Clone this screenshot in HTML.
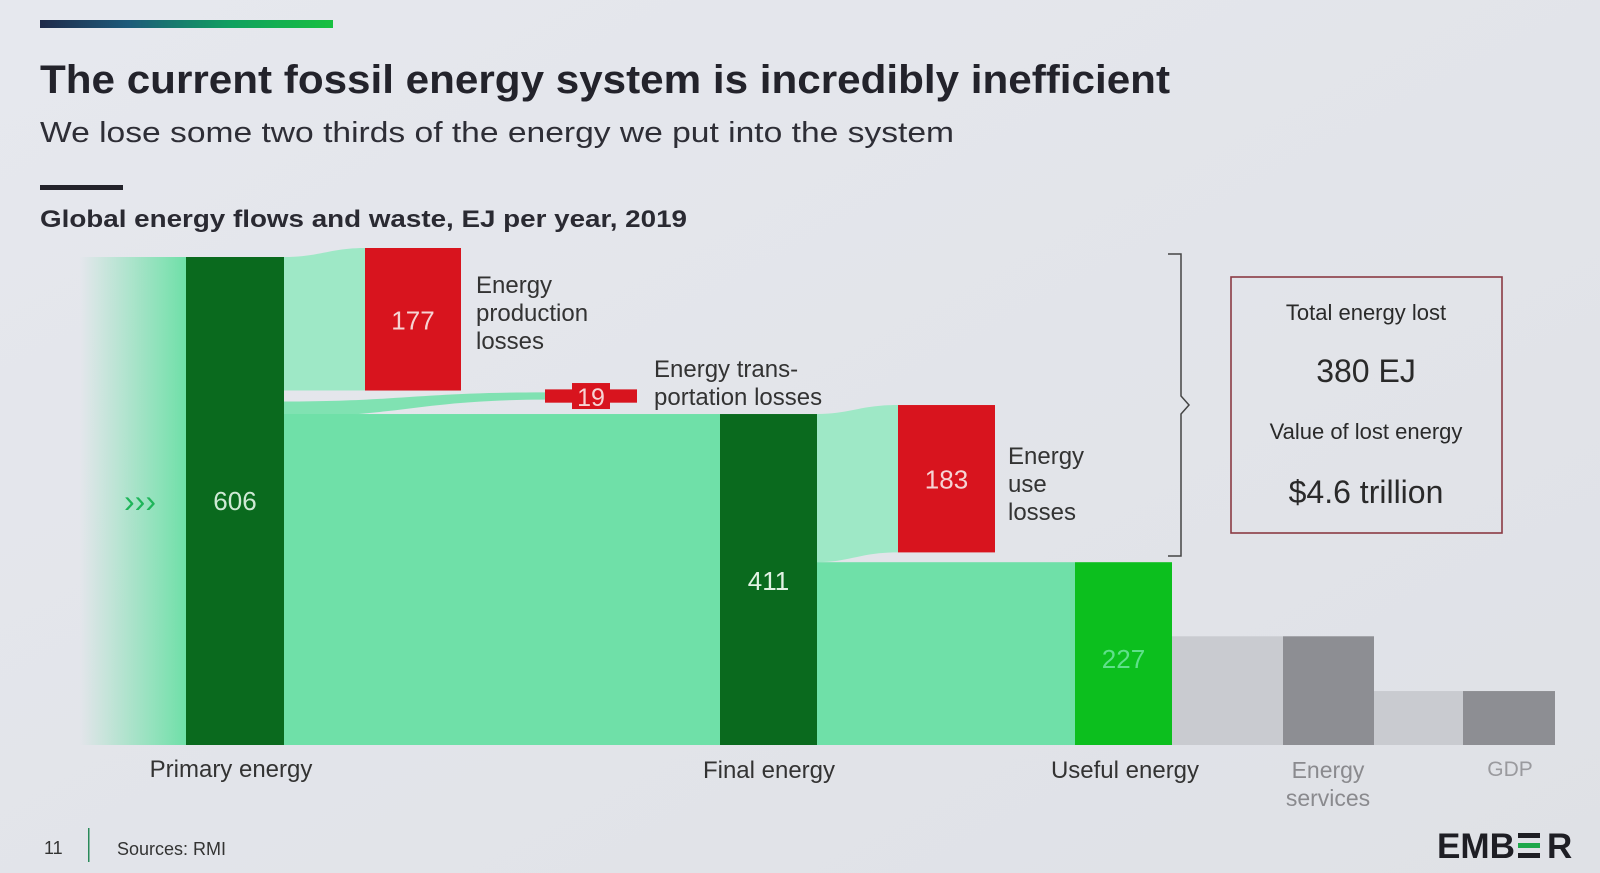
<!DOCTYPE html>
<html><head><meta charset="utf-8"><style>
html,body{margin:0;padding:0;background:#e3e5ea;}
body{width:1600px;height:873px;overflow:hidden;position:relative;font-family:"Liberation Sans",sans-serif;}
svg{position:absolute;left:0;top:0;}
</style></head><body>
<svg id="chart" width="1600" height="873" viewBox="0 0 1600 873">
<defs>
<linearGradient id="topbar" x1="0" x2="1"><stop offset="0" stop-color="#1f2a4a"/><stop offset="0.3" stop-color="#1d5a7a"/><stop offset="0.65" stop-color="#10a060"/><stop offset="1" stop-color="#18c040"/></linearGradient>
<linearGradient id="fadeIn" x1="0" x2="1"><stop offset="0" stop-color="#6fe0a8" stop-opacity="0"/><stop offset="1" stop-color="#6fe0a8" stop-opacity="1"/></linearGradient>
<linearGradient id="bg" x1="0" x2="1" y1="0" y2="1"><stop offset="0" stop-color="#e6e8ee"/><stop offset="1" stop-color="#dfe1e6"/></linearGradient>
</defs>
<rect x="0" y="0" width="1600" height="873" fill="url(#bg)"/>
<rect x="40" y="20" width="293" height="8" fill="url(#topbar)"/>
<text x="40" y="93" font-size="40" font-weight="bold" fill="#23232b" textLength="1130" lengthAdjust="spacingAndGlyphs">The current fossil energy system is incredibly inefficient</text>
<text x="40" y="142" font-size="29" fill="#2e2e36" textLength="914" lengthAdjust="spacingAndGlyphs">We lose some two thirds of the energy we put into the system</text>
<rect x="40" y="185" width="83" height="5" fill="#23232b"/>
<text x="40" y="227" font-size="24" font-weight="bold" fill="#2a2a32" textLength="647" lengthAdjust="spacingAndGlyphs">Global energy flows and waste, EJ per year, 2019</text>
<g id="marks"></g>
<path d="M1168 254 H1181 V396 L1189 405 L1181 414 V556 H1168" fill="none" stroke="#444" stroke-width="1.5"/>
<g>
<rect x="1231" y="277" width="271" height="256" fill="none" stroke="#8a3a44" stroke-width="1.6"/>
<text x="1366" y="320" font-size="22" fill="#2a2a2a" text-anchor="middle">Total energy lost</text>
<text x="1366" y="382" font-size="32" fill="#2a2a2a" text-anchor="middle">380 EJ</text>
<text x="1366" y="439" font-size="22" fill="#2a2a2a" text-anchor="middle">Value of lost energy</text>
<text x="1366" y="503" font-size="32" fill="#2a2a2a" text-anchor="middle">$4.6 trillion</text>
</g>
<text x="44" y="854" font-size="18" fill="#333">11</text>
<rect x="88" y="828" width="1.5" height="34" fill="#2a8a5a"/>
<text x="117" y="855" font-size="18" fill="#333">Sources: RMI</text>
<g>
<text x="1437" y="858" font-size="35" font-weight="bold" fill="#1e1e24" textLength="78" lengthAdjust="spacingAndGlyphs">EMB</text>
<rect x="1518" y="833" width="22" height="5" fill="#1e1e24"/>
<rect x="1518" y="843" width="22" height="5" fill="#1ea84a"/>
<rect x="1518" y="853" width="22" height="5" fill="#1e1e24"/>
<text x="1547" y="858" font-size="35" font-weight="bold" fill="#1e1e24">R</text>
</g>
</svg>
<script>
// data
const stageNames = ["Primary energy","Final energy","Useful energy","Energy services","GDP"];
const stageValues = [606, 411, 227, 135, 67];
const stageLabels = ["606","411","227","",""];
const lossNames = ["Energy production losses","Energy transportation losses","Energy use losses"];
const lossValues = [177, 19, 183];
const lossLabels = ["177","19","183"];

const NS="http://www.w3.org/2000/svg";
const g=document.getElementById('marks');
const base=745, k=488/606;
const y=v=>base-v*k;
const h=v=>v*k;
function mk(tag,attrs,parent){const e=document.createElementNS(NS,tag);for(const a in attrs)e.setAttribute(a,attrs[a]);(parent||g).appendChild(e);return e;}
function txt(x,yy,s,size,fill,anchor){const t=mk('text',{x:x,y:yy,'font-size':size,fill:fill,'text-anchor':anchor||'start'});t.textContent=s;return t;}

const bx=[186,720,1075,1283,1463], bw=[98,97,97,91,92];
const flow="#6fe0a8", flowLight="#9ee8c6";
let e=mk('rect',{x:80,y:y(stageValues[0]),width:106,height:h(stageValues[0]),fill:'url(#fadeIn)'});


const pTop=y(stageValues[0]);
const lossTop0=y(stageValues[0])-9;
e=mk('path',{d:`M284 ${pTop} C320 ${pTop} 330 ${lossTop0} 365 ${lossTop0} V${lossTop0+h(lossValues[0])} H284 Z`,fill:flowLight});


const tTop=pTop+h(lossValues[0])+2, tH=h(lossValues[1]);
const tMid=y(stageValues[1])-18;
e=mk('path',{d:`M284 ${tTop} C400 ${tTop} 420 ${tMid-tH/2+4} 545 ${tMid-tH/2+4} V${tMid+tH/2-4} C420 ${tMid+tH/2-4} 400 ${tTop+tH} 284 ${tTop+tH} Z`,fill:flow,opacity:0.85});


e=mk('rect',{x:284,y:y(stageValues[1]),width:436,height:h(stageValues[1]),fill:flow});


const uTop=y(stageValues[1])-9;
e=mk('path',{d:`M817 ${y(stageValues[1])} C850 ${y(stageValues[1])} 860 ${uTop} 898 ${uTop} V${uTop+h(lossValues[2])} C860 ${uTop+h(lossValues[2])} 850 ${y(stageValues[2])} 817 ${y(stageValues[2])} Z`,fill:flowLight});


e=mk('rect',{x:817,y:y(stageValues[2]),width:258,height:h(stageValues[2]),fill:flow});


e=mk('rect',{x:1172,y:y(stageValues[3]),width:111,height:h(stageValues[3]),fill:'#c9cbd0'});


e=mk('rect',{x:1374,y:y(stageValues[4]),width:89,height:h(stageValues[4]),fill:'#c9cbd0'});


const barColors=["#0a6a1e","#0a6a1e","#0cbf1e","#8d8e93","#8d8e93"];
const labelColors=["#cfe9d5","#e2f2e4","#5fe08a","",""];
stageValues.forEach((v,i)=>{
  const r=mk('rect',{x:bx[i],y:y(v),width:bw[i],height:h(v),fill:barColors[i]});
  
  
  if(stageLabels[i]){
    const t=txt(bx[i]+bw[i]/2,i===0?510:(i===1?590:668),stageLabels[i],26,labelColors[i],'middle');
    
    
  }
});
const catX=[231,769,1125,1328,1510], catY=[777,778,778,778,776];
const catColors=["#333","#333","#333","#8a8a8e","#9a9a9e"];
stageNames.forEach((n,i)=>{
  const t=mk('text',{x:catX[i],y:catY[i],'font-size':24,fill:catColors[i],'text-anchor':'middle'});
  if(i===3){const a=mk('tspan',{x:catX[i],dy:0},t);a.textContent='Energy';const b=mk('tspan',{x:catX[i],dy:28},t);b.textContent='services';t.setAttribute('font-size',23);}
  else if(i===4){t.textContent=n;t.setAttribute('font-size',21);}
  else t.textContent=n;
  
  
});
const lx=[365,545,898], lw=[96,92,97];
const lTop=[lossTop0,null,uTop];
lossValues.forEach((v,i)=>{
  let r;
  if(i===1){
    r=mk('rect',{x:lx[i],y:tMid-tH/2+1,width:lw[i],height:tH-2,fill:'#d8141e'});
    mk('rect',{x:lx[i]+27,y:tMid-13,width:38,height:26,fill:'#d8141e'});
  } else {
    r=mk('rect',{x:lx[i],y:lTop[i],width:lw[i],height:h(v),fill:'#d8141e'});
  }
  
  
  const ty=i===1?tMid+10:lTop[i]+h(v)/2+10;
  const t=txt(lx[i]+lw[i]/2,ty,lossLabels[i],i===1?25:26,'#f6d4d4','middle');
  
  
});
const caps=[[476,293,["Energy","production","losses"]],[654,377,["Energy trans-","portation losses"]],[1008,464,["Energy","use","losses"]]];
caps.forEach((c,i)=>{
  const t=mk('text',{x:c[0],y:c[1],'font-size':24,fill:'#333'});
  c[2].forEach((s,j)=>{const sp=mk('tspan',{x:c[0],dy:j?28:0},t);sp.textContent=s;});
  
  
});
const ch=mk('text',{x:124,y:512,'font-size':32,fill:'#1fb55a'});
ch.textContent='›››';


</script>
</body></html>
